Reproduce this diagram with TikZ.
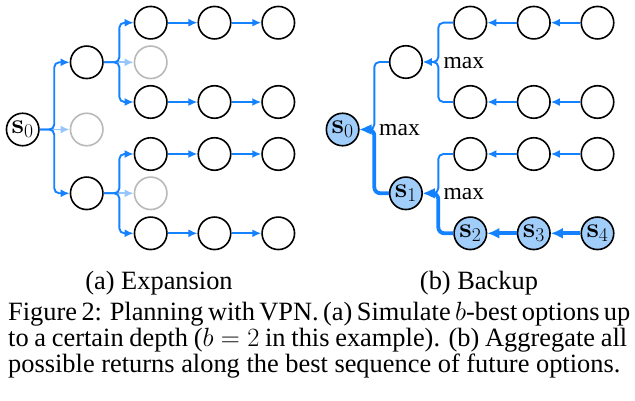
\RequirePackage{fix-cm}
\documentclass[tikz,border=0pt]{standalone}
\usepackage[no-math]{fontspec}
\setmainfont{Liberation Serif}
\usetikzlibrary{arrows.meta}
\definecolor{lc}{RGB}{20,130,255}
\definecolor{llc}{RGB}{150,198,252}
\definecolor{hf}{RGB}{160,205,250}
\definecolor{gc}{RGB}{185,185,185}
\newcommand{\capfont}{\fontsize{26.4}{28}\selectfont}
\begin{document}
\begin{tikzpicture}[x=1pt,y=-1pt,
  st/.style={circle,draw=black,line width=1.6pt,minimum size=32.5pt,inner sep=0pt,font=\fontsize{28}{32}\selectfont},
  gst/.style={st,draw=gc},
  hst/.style={st,fill=hf},
  ln/.style={color=lc,line width=1.9pt,rounded corners=5pt,-{Latex[length=9pt,width=8pt]}},
  lln/.style={ln,color=llc},
  bln/.style={color=lc,line width=3.8pt,rounded corners=6pt,-{Latex[length=12pt,width=11pt]}},
  mx/.style={anchor=west,inner sep=0pt,font=\fontsize{23.6}{28}\selectfont},
  captxt/.style={inner sep=0pt,font=\capfont},
]
\useasboundingbox (0,0) rectangle (635,401);

% ---------- (a) Expansion ----------
\node[st]  (a0) at (22.7,129.5) {$\mathbf{s}_0$};
\node[st]  (a1) at (86.7,62.3) {};
\node[gst] (a2) at (86.7,129.5) {};
\node[st]  (a3) at (86.7,193.3) {};
\node[st]  (b1) at (150.7,22.7) {};
\node[gst] (b2) at (150.7,62.3) {};
\node[st]  (b3) at (150.7,102) {};
\node[st]  (b4) at (150.7,154) {};
\node[gst] (b5) at (150.7,193.3) {};
\node[st]  (b6) at (150.7,233.3) {};
\foreach \r/\y in {1/22.7,3/102,4/154,6/233.3}{
  \node[st] (c\r) at (214.5,\y) {};
  \node[st] (d\r) at (278.3,\y) {};
}
\draw[lln] (a0.east) -- (a2.west);
\draw[ln] (a0.east) -- ++(14.5,0) |- (a1.west);
\draw[ln] (a0.east) -- ++(14.5,0) |- (a3.west);
\draw[lln] (a1.east) -- (b2.west);
\draw[ln] (a1.east) -- ++(15.6,0) |- (b1.west);
\draw[ln] (a1.east) -- ++(15.6,0) |- (b3.west);
\draw[lln] (a3.east) -- (b5.west);
\draw[ln] (a3.east) -- ++(15.6,0) |- (b4.west);
\draw[ln] (a3.east) -- ++(15.6,0) |- (b6.west);
\foreach \r in {1,3,4,6}{
  \draw[ln] (b\r.east) -- (c\r.west);
  \draw[ln] (c\r.east) -- (d\r.west);
}

% ---------- (b) Backup ----------
\node[hst] (R0) at (342.6,129.5) {$\mathbf{s}_0$};
\node[st]  (B1) at (405.9,62) {};
\node[hst] (S1) at (405.9,193.3) {$\mathbf{s}_1$};
\node[st]  (e1) at (470.3,22.7) {};
\node[st]  (e3) at (470.3,102) {};
\node[st]  (e4) at (470.3,154) {};
\node[hst] (S2) at (470.3,233.3) {$\mathbf{s}_2$};
\node[st]  (f1) at (533.8,22.7) {};
\node[st]  (f3) at (533.8,102) {};
\node[st]  (f4) at (533.8,154) {};
\node[hst] (S3) at (533.8,233.3) {$\mathbf{s}_3$};
\node[st]  (g1) at (597.5,22.7) {};
\node[st]  (g3) at (597.5,102) {};
\node[st]  (g4) at (597.5,154) {};
\node[hst] (S4) at (597.5,233.3) {$\mathbf{s}_4$};

\coordinate (j0) at (374.3,129.5);
\coordinate (j1) at (438.3,62);
\coordinate (j2) at (438.3,193.3);

\draw[ln] (B1.west) -| (j0) -- (R0.east);
\draw[bln] (S1.west) -| (j0) -- (R0.east);
\draw[ln] (e1.west) -| (j1) -- (B1.east);
\draw[ln] (e3.west) -| (j1) -- (B1.east);
\draw[ln] (e4.west) -| (j2) -- (S1.east);
\draw[bln] (S2.west) -| (j2) -- (S1.east);
\foreach \r in {1,3,4}{
  \draw[ln] (g\r.west) -- (f\r.east);
  \draw[ln] (f\r.west) -- (e\r.east);
}
\draw[bln] (S4.west) -- (S3.east);
\draw[bln] (S3.west) -- (S2.east);

\node[mx] (m0) at (379.0,130.2) {max};
\node[mx] (m1) at (443.3,62.7) {max};
\node[mx] (m2) at (443.3,194) {max};

% ---------- captions ----------
\node[captxt,anchor=base] (ca) at (159,289) {(a) Expansion};
\node[captxt,anchor=base] (cb) at (479,289) {(b) Backup};
\node[captxt,anchor=base west] (l1) at (8,320.7) {\makebox[619pt][s]{Figure 2: Planning with VPN. (a) Simulate $b$-best options up}};
\node[captxt,anchor=base west] (l2) at (8,346.7) {\makebox[619pt][s]{to a certain depth ($b=2$ in this example). (b) Aggregate all}};
\node[captxt,anchor=base west] (l3) at (8,372.7) {possible returns along the best sequence of future options.};
\end{tikzpicture}
\end{document}
